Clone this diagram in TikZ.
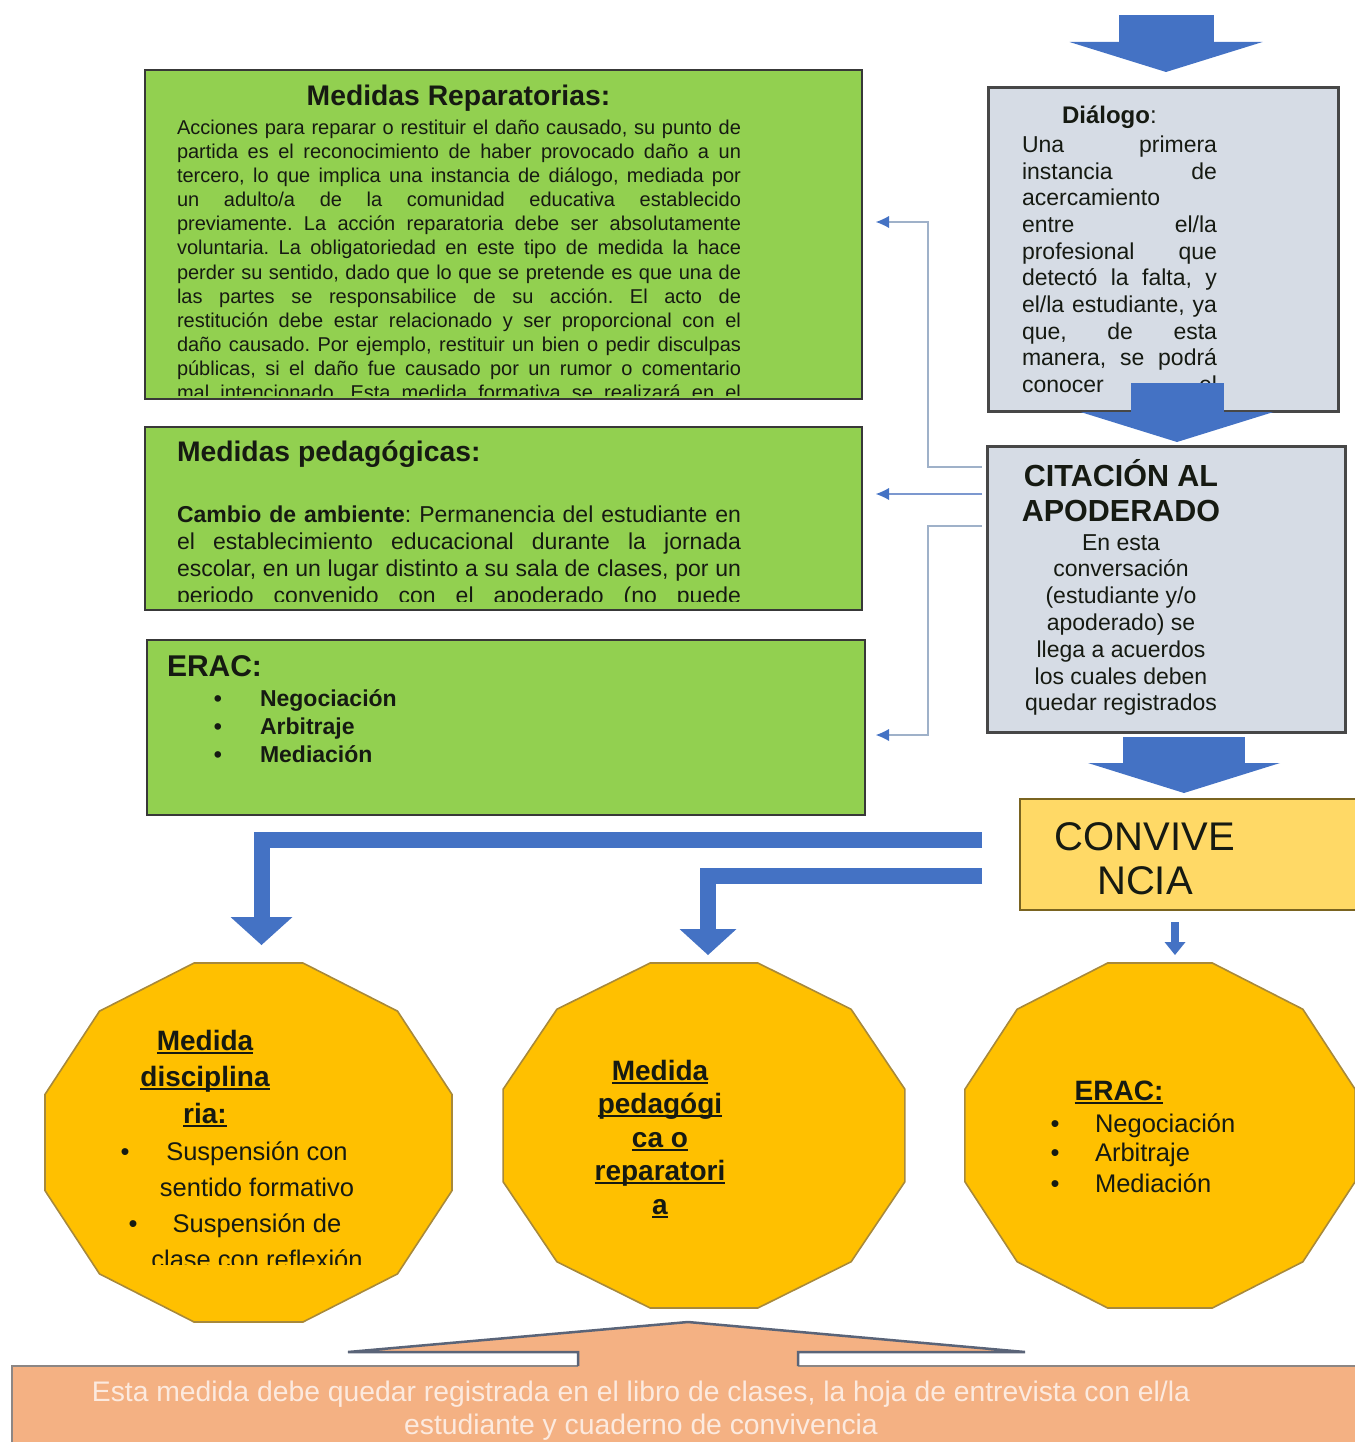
\documentclass[tikz,border=0pt]{standalone}
\usepackage{fontspec}
\setmainfont{Liberation Sans}
\usetikzlibrary{arrows.meta}
\definecolor{grn}{HTML}{92D050}
\definecolor{gbox}{HTML}{D6DCE5}
\definecolor{blu}{HTML}{4472C4}
\definecolor{conncol}{HTML}{9FB1C9}
\definecolor{connmid}{HTML}{7C98CF}
\definecolor{convfill}{HTML}{FFD966}
\definecolor{convline}{HTML}{7A6420}
\definecolor{octfill}{HTML}{FFC000}
\definecolor{octline}{HTML}{A8893A}
\definecolor{salmon}{HTML}{F4B183}
\definecolor{salmontext}{HTML}{FCEADF}
\definecolor{noteline}{HTML}{8C8684}
\definecolor{callline}{HTML}{5A6478}
\definecolor{txtc}{HTML}{161A12}
\newcommand\ulin[1]{\leavevmode\setbox0\hbox{#1}\rlap{\rule[-3.5pt]{\wd0}{2pt}}\box0}
\newcommand\JL[1]{\hbox to \hsize{#1}}
\newcommand\FL[1]{\hbox to \hsize{#1\hfil}}
\frenchspacing
\begin{document}
\begin{tikzpicture}[x=1pt,y=-1pt,
  box/.style={anchor=north west, inner sep=0pt, outer sep=0pt},
  greenbox/.style={box, draw=black!78, line width=2.5pt, fill=grn},
  graybox/.style={box, draw=black!72, line width=3pt, fill=gbox},
  convbox/.style={box, draw=convline, line width=2.5pt, fill=convfill},
  notebox/.style={box, draw=noteline, line width=2.5pt, fill=salmon},
  octa/.style={draw=octline, line width=1.6pt, fill=octfill},
  txt/.style={inner sep=0pt, outer sep=0pt, text=txtc},
  blockarrow/.style={draw=blu, line cap=butt, line join=miter},
  conn/.style={draw=conncol, line width=2.8pt, -{Latex[length=13pt,width=12pt,line width=0pt,color=blu]}},
]
\useasboundingbox (0,0) rectangle (1354,1442);

% ---------- green boxes ----------
\node[greenbox, minimum width=717pt, minimum height=329pt] (rep) at (145,70) {};
\node[greenbox, minimum width=717pt, minimum height=183pt] (ped) at (145,427) {};
\node[greenbox, minimum width=718pt, minimum height=175pt] (erg) at (147,640) {};

\node[txt, anchor=base] (repT) at (458.5,106) {\fontsize{28.3}{32}\selectfont\bfseries Medidas Reparatorias:};
\begin{scope}
\clip (146.5,72) rectangle (860.5,395);
\node[txt, anchor=base west] (repB) at (177,134.5) {\parbox[t]{564pt}{\fontsize{20}{24.1}\selectfont
\JL{Acciones para reparar o restituir el daño causado, su punto de}
\JL{partida es el reconocimiento de haber provocado daño a un}
\JL{tercero, lo que implica una instancia de diálogo, mediada por}
\JL{un adulto/a de la comunidad educativa establecido}
\JL{previamente. La acción reparatoria debe ser absolutamente}
\JL{voluntaria. La obligatoriedad en este tipo de medida la hace}
\JL{perder su sentido, dado que lo que se pretende es que una de}
\JL{las partes se responsabilice de su acción. El acto de}
\JL{restitución debe estar relacionado y ser proporcional con el}
\JL{daño causado. Por ejemplo, restituir un bien o pedir disculpas}
\JL{públicas, si el daño fue causado por un rumor o comentario}
\JL{mal intencionado. Esta medida formativa se realizará en el}}};
\end{scope}

\node[txt, anchor=base west] (pedT) at (177,461) {\fontsize{28.3}{32}\selectfont\bfseries Medidas pedagógicas:};
\begin{scope}
\clip (146.5,470) rectangle (860.5,601);
\node[txt, anchor=base west] (pedB) at (177,522.6) {\parbox[t]{564pt}{\fontsize{23}{26.8}\selectfont
\JL{\textbf{Cambio de ambiente}: Permanencia del estudiante en}
\JL{el establecimiento educacional durante la jornada}
\JL{escolar, en un lugar distinto a su sala de clases, por un}
\JL{periodo convenido con el apoderado (no puede}}};
\end{scope}

\node[txt, anchor=base west] (ergT) at (167,676.5) {\fontsize{30}{34}\selectfont\bfseries ERAC:};
\node[txt, anchor=base] (ergD1) at (218,706) {\fontsize{23}{28}\selectfont\bfseries •};
\node[txt, anchor=base] (ergD2) at (218,734) {\fontsize{23}{28}\selectfont\bfseries •};
\node[txt, anchor=base] (ergD3) at (218,762) {\fontsize{23}{28}\selectfont\bfseries •};
\node[txt, anchor=base west] (ergL1) at (260,706) {\fontsize{23}{28}\selectfont\bfseries Negociación};
\node[txt, anchor=base west] (ergL2) at (260,734) {\fontsize{23}{28}\selectfont\bfseries Arbitraje};
\node[txt, anchor=base west] (ergL3) at (260,762) {\fontsize{23}{28}\selectfont\bfseries Mediación};

% ---------- right column ----------
\node[graybox, minimum width=350pt, minimum height=323pt] (dlg) at (988,88) {};
\node[txt, anchor=base west] (dlgT) at (1062,123.6) {\fontsize{24}{28}\selectfont\textbf{Diálogo}:};
\node[txt, anchor=base west] (dlgB) at (1022,152.5) {\parbox[t]{195pt}{\fontsize{23}{26.65}\selectfont
\JL{Una primera}
\JL{instancia de}
\FL{acercamiento}
\JL{entre el/la}
\JL{profesional que}
\JL{detectó la falta, y}
\JL{el/la estudiante, ya}
\JL{que, de esta}
\JL{manera, se podrá}
\JL{conocer el}}};

\node[graybox, minimum width=358pt, minimum height=286pt] (cit) at (987,446) {};
\node[txt, anchor=base] (citT) at (1121,486) {\parbox[t]{340pt}{\centering\fontsize{30.5}{35}\selectfont\bfseries CITACIÓN AL\\APODERADO}};
\node[txt, anchor=base] (citB) at (1121,550) {\parbox[t]{320pt}{\centering\fontsize{23}{26.8}\selectfont En esta\\conversación\\(estudiante y/o\\apoderado) se\\llega a acuerdos\\los cuales deben\\quedar registrados}};

\node[convbox, minimum width=345pt, minimum height=111pt] (conv) at (1020,799) {};
\node[txt, anchor=base] (convT) at (1145,850.5) {\parbox[t]{320pt}{\centering\fontsize{40}{44}\selectfont CONVIVE\\NCIA}};

% ---------- block arrows ----------
\coordinate (a0s) at (1166,15);  \coordinate (a0e) at (1166,72);
\coordinate (a1s) at (1177,383); \coordinate (a1e) at (1177,442);
\coordinate (a2s) at (1184,737); \coordinate (a2e) at (1184,793);
\draw[blockarrow, line width=95pt, -{Triangle[width=193pt,length=30pt,line width=0pt]}] (a0s) -- (a0e);
\draw[blockarrow, line width=93pt, -{Triangle[width=193pt,length=30pt,line width=0pt]}] (a1s) -- (a1e);
\draw[blockarrow, line width=122pt, -{Triangle[width=192pt,length=30pt,line width=0pt]}] (a2s) -- (a2e);

% ---------- thin connectors ----------
\coordinate (bus) at (928,0);
\coordinate (c1s) at (982,467); \coordinate (c1e) at (876,222);
\coordinate (c2s) at (982,494); \coordinate (c2e) at (876,494);
\coordinate (c3s) at (982,526); \coordinate (c3e) at (876,735);
\draw[conn] (c1s) -- (c1s -| bus) |- (c1e);
\draw[conn, draw=connmid] (c2s) -- (c2e);
\draw[conn] (c3s) -- (c3s -| bus) |- (c3e);

% ---------- L arrows from CONVIVENCIA ----------
\coordinate (L1s) at (982,840); \coordinate (L1e) at (261.5,945);
\coordinate (L2s) at (982,876); \coordinate (L2e) at (708,955);
\coordinate (L3s) at (1175,922); \coordinate (L3e) at (1175,955);
\draw[blockarrow, line width=16pt, -{Triangle[width=62pt,length=28pt,line width=0pt]}] (L1s) -| (L1e);
\draw[blockarrow, line width=16pt, -{Triangle[width=57pt,length=26pt,line width=0pt]}] (L2s) -| (L2e);
\draw[blockarrow, line width=8pt, -{Triangle[width=21pt,length=13pt,line width=0pt]}] (L3s) -- (L3e);

% ---------- octagons ----------
\coordinate (o1) at (248.5,1142.5);
\coordinate (o2) at (704,1135.5);
\coordinate (o3) at (1160,1135.5);
\draw[octa, shift={(o1)}] (15:210.7 and 185.8) \foreach \a in {45,75,...,345}{ -- (\a:210.7 and 185.8)} -- cycle;
\draw[octa, shift={(o2)}] (15:208 and 178.6) \foreach \a in {45,75,...,345}{ -- (\a:208 and 178.6)} -- cycle;
\draw[octa, shift={(o3)}] (15:202 and 178.6) \foreach \a in {45,75,...,345}{ -- (\a:202 and 178.6)} -- cycle;

\node[txt, anchor=base] (o1T) at (205,1050) {\parbox[t]{220pt}{\centering\fontsize{28}{36.5}\selectfont\bfseries \ulin{Medida}\\\ulin{disciplina}\\\ulin{ria:}}};
\node[txt, anchor=base] (o1D1) at (125,1160) {\fontsize{25.5}{36}\selectfont •};
\node[txt, anchor=base] (o1D2) at (133,1232) {\fontsize{25.5}{36}\selectfont •};
\begin{scope}
\clip (60,1130) rectangle (440,1264);
\node[txt, anchor=base] (o1B) at (257,1160) {\parbox[t]{260pt}{\centering\fontsize{25.5}{36}\selectfont Suspensión con\\sentido formativo\\Suspensión de\\clase con reflexión}};
\end{scope}

\node[txt, anchor=base] (o2T) at (660,1080) {\parbox[t]{220pt}{\centering\fontsize{28}{33.5}\selectfont\bfseries \ulin{Medida}\\\ulin{pedagógi}\\\ulin{ca o}\\\ulin{reparatori}\\\ulin{a}}};

\node[txt, anchor=base] (o3T) at (1119,1100) {\fontsize{28}{32}\selectfont\bfseries \ulin{ERAC:}};
\node[txt, anchor=base] (o3D1) at (1055,1132) {\fontsize{25.5}{30}\selectfont •};
\node[txt, anchor=base] (o3D2) at (1055,1161) {\fontsize{25.5}{30}\selectfont •};
\node[txt, anchor=base] (o3D3) at (1055,1192) {\fontsize{25.5}{30}\selectfont •};
\node[txt, anchor=base west] (o3L1) at (1095,1132) {\fontsize{25.5}{30}\selectfont Negociación};
\node[txt, anchor=base west] (o3L2) at (1095,1161) {\fontsize{25.5}{30}\selectfont Arbitraje};
\node[txt, anchor=base west] (o3L3) at (1095,1192) {\fontsize{25.5}{30}\selectfont Mediación};

% ---------- bottom note with callout ----------
\node[notebox, minimum width=1370pt, minimum height=95pt] (note) at (12,1366) {};
\fill[salmon] (578,1368.5) -- (578,1352) -- (348,1352) -- (688,1322) -- (1025,1352) -- (798,1352) -- (798,1368.5) -- cycle;
\draw[callline, line width=2.5pt, line join=miter] (578,1366) -- (578,1352) -- (348,1352) -- (688,1322) -- (1025,1352) -- (798,1352) -- (798,1366);
\node[inner sep=0pt, text=salmontext, anchor=base] (noteT) at (641,1401) {\parbox[t]{1330pt}{\centering\fontsize{28.3}{33}\selectfont Esta medida debe quedar registrada en el libro de clases, la hoja de entrevista con el/la\\estudiante y cuaderno de convivencia}};
\end{tikzpicture}
\end{document}
